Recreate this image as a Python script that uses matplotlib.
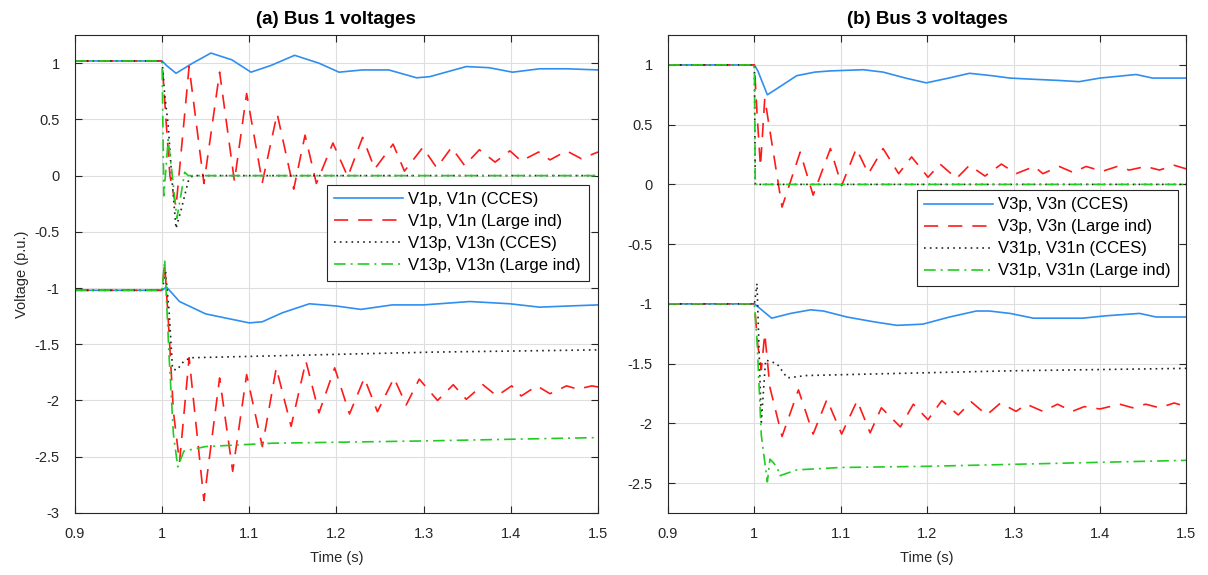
import matplotlib
matplotlib.use("Agg")
import matplotlib.pyplot as plt

plt.rcParams['font.family'] = ['Liberation Sans', 'DejaVu Sans']
plt.rcParams['axes.unicode_minus'] = False

# ---------------- Panel (a): Bus 1 ----------------
a_blue_top_t = [0.9, 1.0, 1.005, 1.016, 1.035, 1.056, 1.08, 1.102, 1.125, 1.152, 1.18, 1.203, 1.23, 1.26, 1.292, 1.307, 1.349, 1.375, 1.402, 1.433, 1.465, 1.5]
a_blue_top_v = [1.02, 1.02, 0.98, 0.91, 1.0, 1.09, 1.03, 0.92, 0.98, 1.07, 1.0, 0.92, 0.94, 0.94, 0.87, 0.88, 0.97, 0.96, 0.92, 0.95, 0.95, 0.94]
a_red_top_t = [0.9, 1.0, 1.004, 1.009, 1.016, 1.031, 1.048, 1.066, 1.083, 1.097, 1.115, 1.132, 1.151, 1.164, 1.177, 1.196, 1.213, 1.230, 1.244, 1.265, 1.278, 1.299, 1.315, 1.332, 1.347, 1.364, 1.382, 1.399, 1.412, 1.432, 1.445, 1.464, 1.481, 1.5]
a_red_top_v = [1.02, 1.02, 0.55, 0.0, -0.28, 0.97, -0.07, 0.92, -0.05, 0.73, -0.06, 0.55, -0.12, 0.36, -0.07, 0.29, -0.01, 0.34, 0.06, 0.28, 0.04, 0.25, 0.07, 0.25, 0.09, 0.23, 0.12, 0.22, 0.13, 0.21, 0.14, 0.22, 0.15, 0.21]
a_blk_top_t = [0.9, 1.0, 1.003, 1.007, 1.011, 1.016, 1.022, 1.03, 1.035, 1.5]
a_blk_top_v = [1.02, 1.02, 0.72, 0.45, 0.0, -0.47, -0.3, -0.05, 0.0, 0.0]
a_grn_top_t = [0.9, 1.0, 1.002, 1.007, 1.011, 1.017, 1.021, 1.026, 1.03, 1.5]
a_grn_top_v = [1.02, 1.02, -0.18, 0.32, 0.05, -0.38, -0.2, 0.03, 0.0, 0.0]

a_blue_bot_t = [0.9, 1.0, 1.005, 1.02, 1.05, 1.075, 1.1, 1.115, 1.138, 1.169, 1.2, 1.228, 1.264, 1.3, 1.353, 1.399, 1.433, 1.465, 1.5]
a_blue_bot_v = [-1.02, -1.02, -0.99, -1.12, -1.23, -1.27, -1.31, -1.30, -1.22, -1.14, -1.16, -1.19, -1.15, -1.15, -1.12, -1.14, -1.17, -1.16, -1.15]
a_red_bot_t = [0.9, 1.0, 1.003, 1.008, 1.013, 1.02, 1.031, 1.048, 1.066, 1.081, 1.097, 1.115, 1.131, 1.148, 1.165, 1.18, 1.198, 1.215, 1.232, 1.247, 1.266, 1.28, 1.295, 1.316, 1.334, 1.349, 1.368, 1.384, 1.401, 1.412, 1.43, 1.445, 1.464, 1.477, 1.493, 1.5]
a_red_bot_v = [-1.02, -1.02, -0.78, -1.4, -2.1, -2.55, -1.62, -2.89, -1.80, -2.63, -1.77, -2.41, -1.71, -2.23, -1.65, -2.11, -1.71, -2.12, -1.80, -2.10, -1.80, -2.04, -1.81, -2.0, -1.86, -1.99, -1.86, -1.96, -1.87, -1.96, -1.87, -1.94, -1.87, -1.90, -1.87, -1.88]
a_blk_bot_t = [0.9, 1.0, 1.004, 1.008, 1.012, 1.017, 1.025, 1.033, 1.2, 1.31, 1.5]
a_blk_bot_v = [-1.02, -1.02, -0.86, -1.2, -1.72, -1.73, -1.65, -1.62, -1.59, -1.57, -1.55]
a_grn_bot_t = [0.9, 1.0, 1.003, 1.008, 1.013, 1.018, 1.025, 1.05, 1.127, 1.3, 1.5]
a_grn_bot_v = [-1.02, -1.02, -0.75, -1.6, -2.3, -2.59, -2.45, -2.41, -2.38, -2.36, -2.33]

# ---------------- Panel (b): Bus 3 ----------------
b_blue_top_t = [0.9, 1.0, 1.004, 1.015, 1.03, 1.049, 1.07, 1.088, 1.126, 1.149, 1.175, 1.199, 1.225, 1.249, 1.275, 1.296, 1.323, 1.353, 1.376, 1.4, 1.442, 1.461, 1.5]
b_blue_top_v = [1.0, 1.0, 0.95, 0.75, 0.82, 0.91, 0.94, 0.95, 0.96, 0.94, 0.89, 0.85, 0.89, 0.93, 0.91, 0.89, 0.88, 0.87, 0.86, 0.89, 0.92, 0.89, 0.89]
b_red_top_t = [0.9, 1.0, 1.003, 1.007, 1.012, 1.032, 1.053, 1.068, 1.088, 1.101, 1.118, 1.132, 1.149, 1.167, 1.182, 1.201, 1.215, 1.234, 1.249, 1.267, 1.286, 1.303, 1.324, 1.334, 1.353, 1.369, 1.384, 1.403, 1.42, 1.434, 1.453, 1.469, 1.486, 1.5]
b_red_top_v = [1.0, 1.0, 0.6, 0.15, 0.72, -0.19, 0.27, -0.09, 0.30, -0.01, 0.30, 0.09, 0.30, 0.09, 0.23, 0.06, 0.17, 0.05, 0.16, 0.07, 0.17, 0.09, 0.15, 0.09, 0.15, 0.10, 0.15, 0.11, 0.15, 0.12, 0.15, 0.12, 0.16, 0.13]
b_blk_top_t = [0.9, 1.0, 1.001, 1.5]
b_blk_top_v = [1.0, 1.0, 0.0, 0.0]
b_grn_top_t = [0.9, 1.0, 1.001, 1.5]
b_grn_top_v = [1.0, 1.0, 0.0, 0.0]

b_blue_bot_t = [0.9, 1.0, 1.005, 1.02, 1.042, 1.065, 1.08, 1.107, 1.138, 1.165, 1.195, 1.226, 1.257, 1.272, 1.296, 1.323, 1.38, 1.407, 1.446, 1.465, 1.5]
b_blue_bot_v = [-1.0, -1.0, -1.03, -1.12, -1.08, -1.05, -1.06, -1.11, -1.15, -1.18, -1.17, -1.11, -1.06, -1.06, -1.08, -1.12, -1.12, -1.10, -1.08, -1.11, -1.11]
b_red_bot_t = [0.9, 1.0, 1.004, 1.008, 1.012, 1.018, 1.032, 1.051, 1.068, 1.084, 1.101, 1.119, 1.134, 1.147, 1.169, 1.184, 1.201, 1.217, 1.236, 1.251, 1.269, 1.285, 1.303, 1.315, 1.334, 1.351, 1.368, 1.382, 1.4, 1.423, 1.438, 1.453, 1.469, 1.486, 1.5]
b_red_bot_v = [-1.0, -1.0, -1.35, -1.55, -1.25, -1.7, -2.11, -1.72, -2.09, -1.80, -2.09, -1.81, -2.08, -1.87, -2.03, -1.84, -1.97, -1.81, -1.93, -1.82, -1.93, -1.83, -1.90, -1.84, -1.90, -1.84, -1.90, -1.86, -1.88, -1.84, -1.87, -1.84, -1.87, -1.83, -1.86]
b_blk_bot_t = [0.9, 1.0, 1.003, 1.008, 1.013, 1.026, 1.038, 1.06, 1.3, 1.5]
b_blk_bot_v = [-1.0, -1.0, -0.83, -1.99, -1.47, -1.5, -1.62, -1.6, -1.56, -1.54]
b_grn_bot_t = [0.9, 1.0, 1.003, 1.008, 1.015, 1.018, 1.022, 1.027, 1.029, 1.049, 1.099, 1.2, 1.32, 1.5]
b_grn_bot_v = [-1.0, -1.0, -1.3, -2.1, -2.49, -2.3, -2.33, -2.38, -2.44, -2.39, -2.37, -2.36, -2.34, -2.31]

labels_a = ['V1p, V1n (CCES)', 'V1p, V1n (Large ind)', 'V13p, V13n (CCES)', 'V13p, V13n (Large ind)']
labels_b = ['V3p, V3n (CCES)', 'V3p, V3n (Large ind)', 'V31p, V31n (CCES)', 'V31p, V31n (Large ind)']
titles = ['(a) Bus 1 voltages', '(b) Bus 3 voltages']
x_ticks = [0.9, 1.0, 1.1, 1.2, 1.3, 1.4, 1.5]
x_tick_labels = ['0.9', '1', '1.1', '1.2', '1.3', '1.4', '1.5']
y_ticks_a = [-3, -2.5, -2, -1.5, -1, -0.5, 0, 0.5, 1]
y_ticks_b = [-2.5, -2, -1.5, -1, -0.5, 0, 0.5, 1]

BLUE = '#2f8ff0'
RED = '#ff1a1a'
BLACK = '#222222'
GREEN = '#22cc22'
styles = [
    dict(color=BLUE, lw=1.2, ls='-'),
    dict(color=RED, lw=1.2, ls=(0, (8.5, 6))),
    dict(color=BLACK, lw=1.2, ls=(0, (1, 2.5))),
    dict(color=GREEN, lw=1.2, ls=(0, (7, 3, 1.2, 3))),
]

fig = plt.figure(figsize=(12.08, 5.75), dpi=100)
ax1 = fig.add_axes([0.062, 0.108, 0.433, 0.831])
ax2 = fig.add_axes([0.553, 0.108, 0.429, 0.831])

panels = [
    (ax1, [(a_blue_top_t, a_blue_top_v, a_blue_bot_t, a_blue_bot_v),
           (a_red_top_t, a_red_top_v, a_red_bot_t, a_red_bot_v),
           (a_blk_top_t, a_blk_top_v, a_blk_bot_t, a_blk_bot_v),
           (a_grn_top_t, a_grn_top_v, a_grn_bot_t, a_grn_bot_v)], labels_a, y_ticks_a, (-3, 1.25), (0.982, 0.687)),
    (ax2, [(b_blue_top_t, b_blue_top_v, b_blue_bot_t, b_blue_bot_v),
           (b_red_top_t, b_red_top_v, b_red_bot_t, b_red_bot_v),
           (b_blk_top_t, b_blk_top_v, b_blk_bot_t, b_blk_bot_v),
           (b_grn_top_t, b_grn_top_v, b_grn_bot_t, b_grn_bot_v)], labels_b, y_ticks_b, (-2.75, 1.25), (0.985, 0.676)),
]

for i, (ax, series, labels, yt, ylim, anchor) in enumerate(panels):
    handles = []
    for (tt, vt, tb, vb), st, lab in zip(series, styles, labels):
        h, = ax.plot(tt, vt, label=lab, **st)
        ax.plot(tb, vb, **st)
        handles.append(h)
    ax.set_xlim(0.9, 1.5)
    ax.set_ylim(*ylim)
    ax.set_xticks(x_ticks)
    ax.set_xticklabels(x_tick_labels)
    ax.set_yticks(yt)
    ax.set_yticklabels(['%g' % v for v in yt])
    ax.grid(True, color='#dedede', lw=0.8)
    ax.set_axisbelow(True)
    ax.tick_params(direction='in', top=True, right=True, labelsize=10.5, length=5, width=0.8, colors='#262626')
    ax.tick_params(axis='x', pad=10)
    ax.tick_params(axis='y', pad=11)
    for sp in ax.spines.values():
        sp.set_color('#262626')
        sp.set_linewidth(0.8)
    ax.set_xlabel('Time (s)', fontsize=10.5, color='#262626', labelpad=7)
    ax.set_title(titles[i], fontsize=13.5, fontweight='bold', pad=8)
    leg = ax.legend(handles=handles, loc='upper right', bbox_to_anchor=anchor,
                    fontsize=12, handlelength=4.1, labelspacing=0.42, handletextpad=0.35,
                    borderpad=0.45, borderaxespad=0.0, frameon=True, fancybox=False,
                    framealpha=1, edgecolor='#262626')
    leg.get_frame().set_linewidth(0.8)

ax1.set_ylabel('Voltage (p.u.)', fontsize=10.5, color='#262626')

fig.savefig('out.png', dpi=100)
